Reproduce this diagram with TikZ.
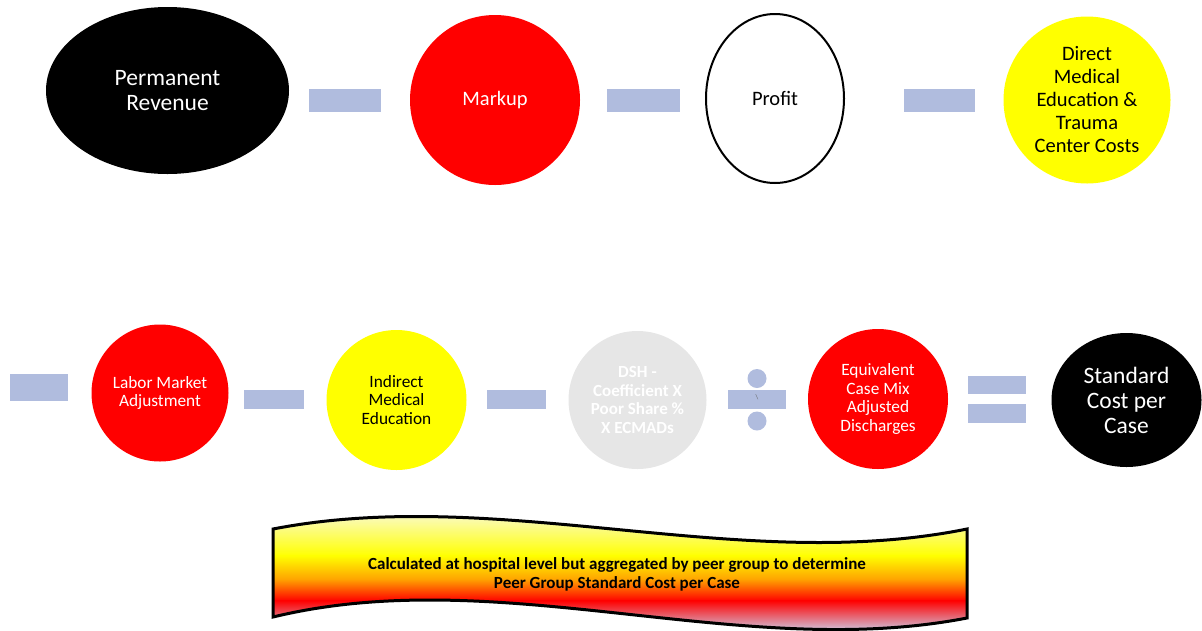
\documentclass[tikz,border=0pt]{standalone}
\usepackage{fontspec}
\setmainfont{Carlito}
\usetikzlibrary{shapes.geometric}
\definecolor{barblue}{RGB}{176,188,222}
\definecolor{dshgray}{RGB}{230,230,230}
\definecolor{pptred}{RGB}{255,0,0}
\definecolor{pptyellow}{RGB}{255,255,0}
\definecolor{paleyellow}{RGB}{250,250,215}
\definecolor{pptorange}{RGB}{255,160,0}
\definecolor{lavender}{RGB}{205,205,232}
\begin{document}
\begin{tikzpicture}[x=1pt,y=-1pt,
  opbar/.style={fill=barblue, draw=none, inner sep=0pt},
  opdot/.style={circle, fill=barblue, draw=none, inner sep=0pt, minimum size=19pt},
  bubble/.style={circle, inner sep=0pt, align=center},
  oval/.style={ellipse, inner sep=0pt, align=center},
  bigtxt/.style={font=\fontsize{23.5}{25}\selectfont},
  midtxt/.style={font=\fontsize{20.5}{23}\selectfont},
  smalltxt/.style={font=\fontsize{17.3}{18.7}\selectfont},
  smallbold/.style={font={\bfseries\fontsize{17}{18.7}\selectfont}}
]
\useasboundingbox (0,0) rectangle (1202,630);

% ---- Row 1 ----
\node[oval, fill=black, text=white, bigtxt, minimum width=243pt, minimum height=167pt] (pr) at (167.5,90.5) {Permanent\\Revenue};
\node[opbar, minimum width=72pt, minimum height=23pt] (m1) at (345,100.5) {};
\node[bubble, fill=pptred, text=white, midtxt, minimum size=170pt] (mk) at (495,100) {Markup};
\node[opbar, minimum width=73pt, minimum height=23pt] (m2) at (643.5,100.5) {};
\node[oval, draw=black, line width=2pt, fill=white, text=black, midtxt, minimum width=138pt, minimum height=169pt] (pf) at (775,98.5) {Profit};
\node[opbar, minimum width=71pt, minimum height=23pt] (m3) at (939.5,100.5) {};
\node[bubble, fill=pptyellow, text=black, midtxt, minimum size=167pt] (dme) at (1087,100) {Direct\\Medical\\Education \&\\Trauma\\Center Costs};

% ---- Row 2 ----
\node[opbar, minimum width=58pt, minimum height=27pt] (m4) at (39,387.5) {};
\node[bubble, fill=pptred, text=white, smalltxt, minimum size=137pt] (lma) at (160,393) {Labor Market\\Adjustment};
\node[opbar, minimum width=60pt, minimum height=19pt] (m5) at (274,399.5) {};
\node[bubble, fill=pptyellow, text=black, smalltxt, minimum size=140pt] (ime) at (396.5,400) {Indirect\\Medical\\Education};
\node[opbar, minimum width=59pt, minimum height=19pt] (m6) at (516.5,399.5) {};
\node[bubble, fill=dshgray, text=white, smallbold, minimum size=138pt] (dsh) at (637.5,400) {DSH -\\Coefficient X\\Poor Share \%\\X ECMADs};
\node[opbar, minimum width=58pt, minimum height=19pt] (dv) at (757,399.5) {};
\node[opdot] (dt) at (757,378.5) {};
\node[opdot] (db) at (757,421) {};
\node[text=black!60, font=\fontsize{7}{8}\selectfont, inner sep=0pt] (bs) at (757,397) {\textbackslash};
\node[bubble, fill=pptred, text=white, smalltxt, minimum size=140pt] (ecm) at (878,399) {Equivalent\\Case Mix\\Adjusted\\Discharges};
\node[opbar, minimum width=58pt, minimum height=18pt] (eq1) at (997,385) {};
\node[opbar, minimum width=58pt, minimum height=19pt] (eq2) at (997,413.5) {};
\node[oval, fill=black, text=white, bigtxt, minimum width=150pt, minimum height=134pt] (scc) at (1126.5,400) {Standard\\Cost per\\Case};

% ---- Banner ----
\begin{scope}
\clip (273,529) .. controls (500,485) and (740,575) .. (967,529) -- (967,618) .. controls (740,662) and (500,562) .. (273,617) -- cycle;
\shade[top color=paleyellow, bottom color=pptyellow] (260,510) rectangle (980,556);
\shade[top color=pptyellow, bottom color=pptorange] (260,555.5) rectangle (980,580);
\shade[top color=pptorange, bottom color=pptred] (260,579.5) rectangle (980,601);
\shade[top color=pptred, bottom color=lavender] (260,600.5) rectangle (980,632);
\end{scope}
\draw[line width=3pt, line join=miter] (273,529) .. controls (500,485) and (740,575) .. (967,529) -- (967,618) .. controls (740,662) and (500,562) .. (273,617) -- cycle;
\node[font=\bfseries\fontsize{17}{19}\selectfont, align=center, text=black] (bt) at (617,574.5) {Calculated at hospital level but aggregated by peer group to determine\\Peer Group Standard Cost per Case};
\end{tikzpicture}
\end{document}
